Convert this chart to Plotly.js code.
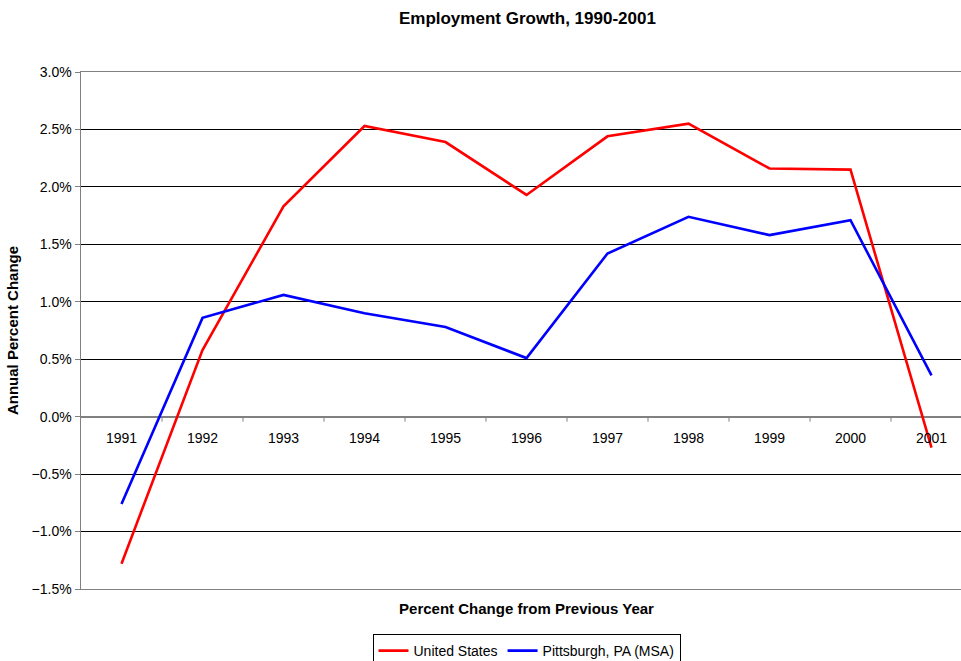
<!DOCTYPE html>
<html>
<head>
<meta charset="utf-8">
<script src="https://cdn.plot.ly/plotly-3.0.1.min.js"></script>
<style>
html, body { margin: 0; padding: 0; overflow: hidden; background: #fff; width: 961px; height: 661px; }
#chart { width: 972px; height: 670px; }
</style>
</head>
<body>
<div id="chart"></div>
<script>
const years = ['1991','1992','1993','1994','1995','1996','1997','1998','1999','2000','2001'];
const usGrowth = [-1.28, 0.58, 1.83, 2.53, 2.39, 1.93, 2.44, 2.55, 2.16, 2.15, -0.27];
const pghGrowth = [-0.76, 0.86, 1.06, 0.90, 0.78, 0.51, 1.42, 1.74, 1.58, 1.71, 0.36];
const seriesNames = ['United States', 'Pittsburgh, PA (MSA)'];
const chartTitle = 'Employment Growth, 1990-2001';
const xTitle = 'Percent Change from Previous Year';
const yTitle = 'Annual Percent Change';

const font = 'Arial, "Liberation Sans", sans-serif';
const H = 670;

const traces = [
  { x: years, y: usGrowth, name: seriesNames[0], type: 'scatter', mode: 'lines',
    line: { color: '#FF0000', width: 2.6 } },
  { x: years, y: pghGrowth, name: seriesNames[1], type: 'scatter', mode: 'lines',
    line: { color: '#0000FF', width: 2.6 } }
];

// category labels sitting just under the zero line (Excel style)
const annotations = years.map((yr, i) => ({
  x: i, y: 0, xref: 'x', yref: 'y', text: yr, showarrow: false,
  xanchor: 'center', yanchor: 'middle',
  yshift: -21, font: { family: font, size: 14, color: '#000000' }
}));

// small tick marks between categories on the zero line
const shapes = years.slice(0, -1).map((yr, i) => ({
  type: 'line', xref: 'x', yref: 'y', x0: i + 0.5, x1: i + 0.5,
  ysizemode: 'pixel', yanchor: 0, y0: 0, y1: -5,
  line: { color: '#808080', width: 1 }
}));

const layout = {
  width: 972, height: H,
  margin: { l: 81, r: 0, t: 72, b: H - 589, autoexpand: false },
  paper_bgcolor: '#fff', plot_bgcolor: '#fff',
  font: { family: font, size: 14, color: '#000' },
  title: { text: '<b>' + chartTitle + '</b>', x: 487 / 972, xref: 'paper', xanchor: 'center',
           y: 1 - 18 / H, yref: 'container', yanchor: 'middle',
           font: { family: font, size: 17, color: '#000' } },
  xaxis: {
    type: 'category', range: [-0.5, 10.5],
    showticklabels: false, ticks: '', showgrid: false, zeroline: false,
    showline: true, mirror: true, linecolor: '#808080', linewidth: 1,
    title: { text: '<b>' + xTitle + '</b>', standoff: 14, font: { family: font, size: 15, color: '#000' } }
  },
  yaxis: {
    range: [-1.5, 3.0], dtick: 0.5, tick0: 0, tickformat: '.1f', ticksuffix: '%',
    showgrid: true, gridcolor: '#000', gridwidth: 1,
    zeroline: true, zerolinecolor: '#808080', zerolinewidth: 2,
    showline: true, linecolor: '#808080', linewidth: 1.5,
    ticks: 'outside', ticklen: 5, tickcolor: '#808080', tickwidth: 1,
    tickfont: { family: font, size: 14, color: '#000' },
    title: { text: '<b>' + yTitle + '</b>', standoff: 9, font: { family: font, size: 15, color: '#000' } }
  },
  legend: {
    orientation: 'h', x: 0.5, xanchor: 'center', y: -(634 - 589) / 517, yanchor: 'top',
    bordercolor: '#000', borderwidth: 1, bgcolor: '#fff',
    font: { family: font, size: 14, color: '#000' },
    itemwidth: 30, tracegroupgap: 0
  },
  showlegend: true,
  annotations: annotations,
  shapes: shapes
};

Plotly.newPlot('chart', traces, layout, { displayModeBar: false, staticPlot: true });
</script>
</body>
</html>
